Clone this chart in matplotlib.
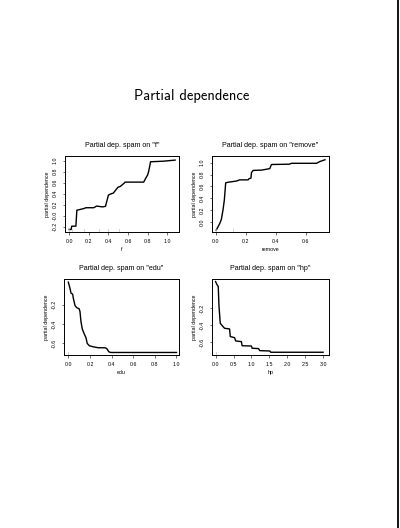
import matplotlib
matplotlib.use('Agg')
import matplotlib.pyplot as plt
from matplotlib.lines import Line2D

# partial dependence curves
f_x = [0.0, 0.02, 0.025, 0.068, 0.078, 0.15, 0.17, 0.25, 0.28, 0.34, 0.37, 0.40,
       0.43, 0.45, 0.48, 0.50, 0.52, 0.56, 0.57, 0.76, 0.78, 0.80, 0.81, 0.83, 0.96, 1.08]
f_y = [-0.25, -0.25, -0.19, -0.19, 0.10, 0.13, 0.145, 0.145, 0.175, 0.16, 0.17, 0.375,
       0.40, 0.41, 0.48, 0.52, 0.53, 0.59, 0.61, 0.61, 0.68, 0.74, 0.80, 0.98, 0.99, 1.01]

remove_x = [0.004, 0.027, 0.038, 0.049, 0.058, 0.067, 0.082, 0.138, 0.16, 0.216, 0.222,
            0.235, 0.238, 0.249, 0.305, 0.338, 0.36, 0.371, 0.49, 0.504, 0.671, 0.693, 0.727]
remove_y = [-0.14, -0.03, 0.04, 0.20, 0.37, 0.66, 0.67, 0.69, 0.71, 0.71, 0.73,
            0.74, 0.83, 0.87, 0.875, 0.89, 0.90, 0.97, 0.975, 0.99, 0.99, 1.02, 1.05]

edu_x = [0.0, 0.015, 0.025, 0.04, 0.046, 0.062, 0.077, 0.10, 0.108, 0.117, 0.129, 0.145,
         0.163, 0.175, 0.194, 0.23, 0.277, 0.338, 0.354, 0.375, 0.39, 1.0]
edu_y = [0.037, -0.026, -0.078, -0.088, -0.13, -0.207, -0.228, -0.24, -0.27, -0.374, -0.45,
         -0.496, -0.54, -0.60, -0.624, -0.635, -0.645, -0.645, -0.652, -0.687, -0.694, -0.694]

hp_x = [0.0, 0.037, 0.075, 0.093, 0.13, 0.168, 0.25, 0.39, 0.41, 0.53, 0.56, 0.72, 0.74,
        1.0, 1.02, 1.2, 1.23, 1.51, 1.54, 3.0]
hp_y = [0.114, 0.08, 0.055, -0.16, -0.376, -0.396, -0.435, -0.443, -0.533, -0.545, -0.584,
        -0.592, -0.64, -0.644, -0.67, -0.674, -0.698, -0.702, -0.717, -0.717]

# decile rug marks
f_rug = [0.0, 0.03, 0.15, 0.30, 0.40, 0.505]
remove_rug = [0.0, 0.115]
edu_rug = [0.0]
hp_rug = [0.0]

panels = [
    ('f', f_x, f_y, f_rug, (-0.043, 1.12), (-0.296, 1.085),
     [0.0, 0.2, 0.4, 0.6, 0.8, 1.0], ['0.0', '0.2', '0.4', '0.6', '0.8', '1.0'],
     [-0.2, 0.0, 0.2, 0.4, 0.6, 0.8, 1.0], ['-0.2', '-0.0', '0.2', '0.4', '0.6', '0.8', '1.0'],
     [0.1625, 0.5606, 0.285, 0.144]),
    ('remove', remove_x, remove_y, remove_rug, (-0.024, 0.755), (-0.171, 1.114),
     [0.0, 0.2, 0.4, 0.6], ['0.0', '0.2', '0.4', '0.6'],
     [0.0, 0.2, 0.4, 0.6, 0.8, 1.0], ['0.0', '0.2', '0.4', '0.6', '0.8', '1.0'],
     [0.53, 0.5606, 0.293, 0.144]),
    ('edu', edu_x, edu_y, edu_rug, (-0.04, 1.025), (-0.72, 0.07),
     [0.0, 0.2, 0.4, 0.6, 0.8, 1.0], ['0.0', '0.2', '0.4', '0.6', '0.8', '1.0'],
     [-0.6, -0.4, -0.2], ['-0.6', '-0.4', '-0.2'],
     [0.16, 0.3277, 0.288, 0.144]),
    ('hp', hp_x, hp_y, hp_rug, (-0.1, 3.17), (-0.749, 0.145),
     [0.0, 0.5, 1.0, 1.5, 2.0, 2.5, 3.0], ['0.0', '0.5', '1.0', '1.5', '2.0', '2.5', '3.0'],
     [-0.6, -0.4, -0.2], ['-0.6', '-0.4', '-0.2'],
     [0.53, 0.3277, 0.293, 0.144]),
]

plt.rcParams['font.family'] = ['Liberation Sans', 'DejaVu Sans']

fig = plt.figure(figsize=(4.0, 5.28), dpi=100)
fig.text(0.48, 0.818, 'Partial dependence', fontname='cmss10', fontsize=10.5,
         ha='center', va='center')

for name, xs, ys, rug, xl, yl, xt, xtl, yt, ytl, pos in panels:
    ax = fig.add_axes(pos)
    ax.plot(xs, ys, color='black', lw=1.0)
    for r in rug:
        ax.plot([r, r], [yl[0] + 0.01 * (yl[1] - yl[0]), yl[0] + 0.035 * (yl[1] - yl[0])],
                color='#bbbbbb', lw=0.5)
    ax.set_xlim(xl)
    ax.set_ylim(yl)
    ax.set_xticks(xt)
    ax.set_xticklabels(xtl, fontsize=3.8)
    ax.set_yticks(yt)
    ax.set_yticklabels(ytl, fontsize=3.8, rotation=90, va='center')
    ax.tick_params(direction='out', length=1.8, width=0.4, pad=3.5)
    for s in ax.spines.values():
        s.set_linewidth(0.7)
    ax.set_title('Partial dep. spam on "%s"' % name, fontsize=5.1, pad=6.5)
    ax.set_xlabel(name, fontsize=3.8, labelpad=2)
    ax.set_ylabel('partial dependence', fontsize=3.8, labelpad=2)

# page edge line at the right
fig.add_artist(Line2D([0.995, 0.995], [0, 1], color='black', lw=1.3,
                      transform=fig.transFigure))

fig.savefig('out.png', dpi=100, facecolor='white')
